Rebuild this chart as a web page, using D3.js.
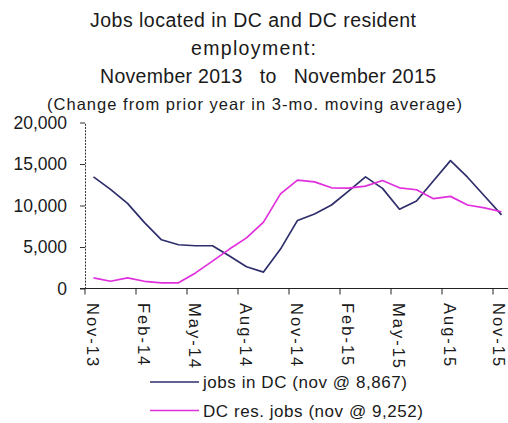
<!DOCTYPE html>
<html>
<head>
<meta charset="utf-8">
<script src="https://cdn.jsdelivr.net/npm/d3@7"></script>
<style>
  html, body { margin: 0; padding: 0; background: #fff; }
  svg { display: block; }
  text { font-family: "Liberation Sans", Arial, sans-serif; fill: #1a1a1a; }
</style>
</head>
<body>
<svg id="chart" width="508" height="423"></svg>
<script>
// Monthly categories, Nov 2013 through Nov 2015
const months = [
  "Nov-13","Dec-13","Jan-14","Feb-14","Mar-14","Apr-14","May-14","Jun-14","Jul-14",
  "Aug-14","Sep-14","Oct-14","Nov-14","Dec-14","Jan-15","Feb-15","Mar-15","Apr-15",
  "May-15","Jun-15","Jul-15","Aug-15","Sep-15","Oct-15","Nov-15"
];
const tickMonths = ["Nov-13","Feb-14","May-14","Aug-14","Nov-14","Feb-15","May-15","Aug-15","Nov-15"];
const yTicks = [0, 5000, 10000, 15000, 20000];

// Change from prior year, 3-month moving average
const jobsInDC = [13450, 11940, 10260, 7940, 5870, 5270, 5150, 5150, 3920, 2620, 1980, 4750,
                  8200, 8980, 10060, 11740, 13450, 12060, 9550, 10540, 12990, 15410, 13410, 11140, 8867];
const dcResJobs = [1280, 870, 1280, 870, 680, 680, 1880, 3300, 4750, 6100, 8000, 11400,
                   13050, 12850, 12130, 12100, 12330, 13020, 12130, 11900, 10820, 11100, 10060, 9720, 9252];

const titleLines = [
  "Jobs located in DC and DC resident",
  "employment:",
  "November 2013   to   November 2015",
  "(Change from prior year in 3-mo. moving average)"
];
const seriesNames = ["jobs in DC (nov @ 8,867)", "DC res. jobs (nov @ 9,252)"];
const seriesColors = ["#2e2e6c", "#e02fdc"];

const W = 508;
const svg = d3.select("#chart");

const x = d3.scaleBand().domain(months).range([85, 510]).paddingInner(0).paddingOuter(0);
const y = d3.scaleLinear().domain([0, 20000]).range([288.5, 122.5]);
const cx = m => x(m) + x.bandwidth() / 2;

// Title block
const titleSpec = [
  {cx: 253, y: 27, size: 19.5, len: 326},
  {cx: 253.5, y: 54.5, size: 19.5, len: 125},
  {cx: 268, y: 83, size: 19.5, len: 336},
  {cx: 254.5, y: 110, size: 16.5, len: 415}
];
svg.append("g").selectAll("text").data(titleLines).join("text")
  .attr("x", (d, i) => titleSpec[i].cx)
  .attr("y", (d, i) => titleSpec[i].y)
  .attr("text-anchor", "middle")
  .attr("font-size", (d, i) => titleSpec[i].size)
  .attr("textLength", (d, i) => titleSpec[i].len)
  .attr("lengthAdjust", "spacing")
  .style("white-space", "pre")
  .text(d => d);

// Y axis
const yAxis = svg.append("g")
  .attr("transform", "translate(85,0)")
  .call(d3.axisLeft(y).tickValues(yTicks).tickFormat(d3.format(",")).tickSize(5).tickSizeOuter(0).tickPadding(13));
yAxis.select(".domain").attr("stroke", "#333").attr("stroke-dasharray", "2,1.2").attr("stroke-width", 1);
yAxis.selectAll(".tick line").attr("stroke", "#333");
yAxis.selectAll(".tick text")
  .attr("font-size", 17.5)
  .attr("font-family", "Liberation Sans, Arial, sans-serif")
  .attr("fill", "#1a1a1a");

// X axis baseline, ticks at category boundaries, labels near category centres
const xg = svg.append("g");
xg.append("line")
  .attr("x1", 80).attr("x2", 510)
  .attr("y1", y(0)).attr("y2", y(0))
  .attr("stroke", "#222").attr("stroke-width", 1.2);
xg.selectAll("line.tick").data(tickMonths).join("line")
  .attr("class", "tick")
  .attr("x1", d => x(d)).attr("x2", d => x(d))
  .attr("y1", y(0)).attr("y2", y(0) + 6)
  .attr("stroke", "#222").attr("stroke-width", 1);

// Rotated labels: baseline placed so glyphs centre on the category, kept inside the canvas
const labelSize = 16.5;
const capH = 0.716 * labelSize, ascent = 0.905 * labelSize;
const labelBase = d => Math.min(cx(d) - 1 - capH / 2, W - ascent - 0.5);
xg.selectAll("text").data(tickMonths).join("text")
  .attr("transform", d => `translate(${labelBase(d)},303) rotate(90)`)
  .attr("text-anchor", "start")
  .attr("font-size", labelSize)
  .attr("letter-spacing", 2)
  .text(d => d);

// Series lines
const line = d3.line().x((d, i) => cx(months[i])).y(d => y(d));
const series = [jobsInDC, dcResJobs];
svg.append("g").selectAll("path").data(series).join("path")
  .attr("d", d => line(d))
  .attr("fill", "none")
  .attr("stroke", (d, i) => seriesColors[i])
  .attr("stroke-width", 1.7)
  .attr("stroke-linejoin", "round");

// Legend
const legY = [382, 410.5];
const leg = svg.append("g").selectAll("g").data(seriesNames).join("g")
  .attr("transform", (d, i) => `translate(0,${legY[i]})`);
leg.append("line")
  .attr("x1", 150).attr("x2", 199).attr("y1", 0).attr("y2", 0)
  .attr("stroke", (d, i) => seriesColors[i]).attr("stroke-width", 1.7);
leg.append("text")
  .attr("x", 203).attr("y", 0).attr("dy", "0.36em")
  .attr("font-size", 17)
  .attr("textLength", (d, i) => [204, 220][i])
  .attr("lengthAdjust", "spacing")
  .text(d => d);
</script>
</body>
</html>
